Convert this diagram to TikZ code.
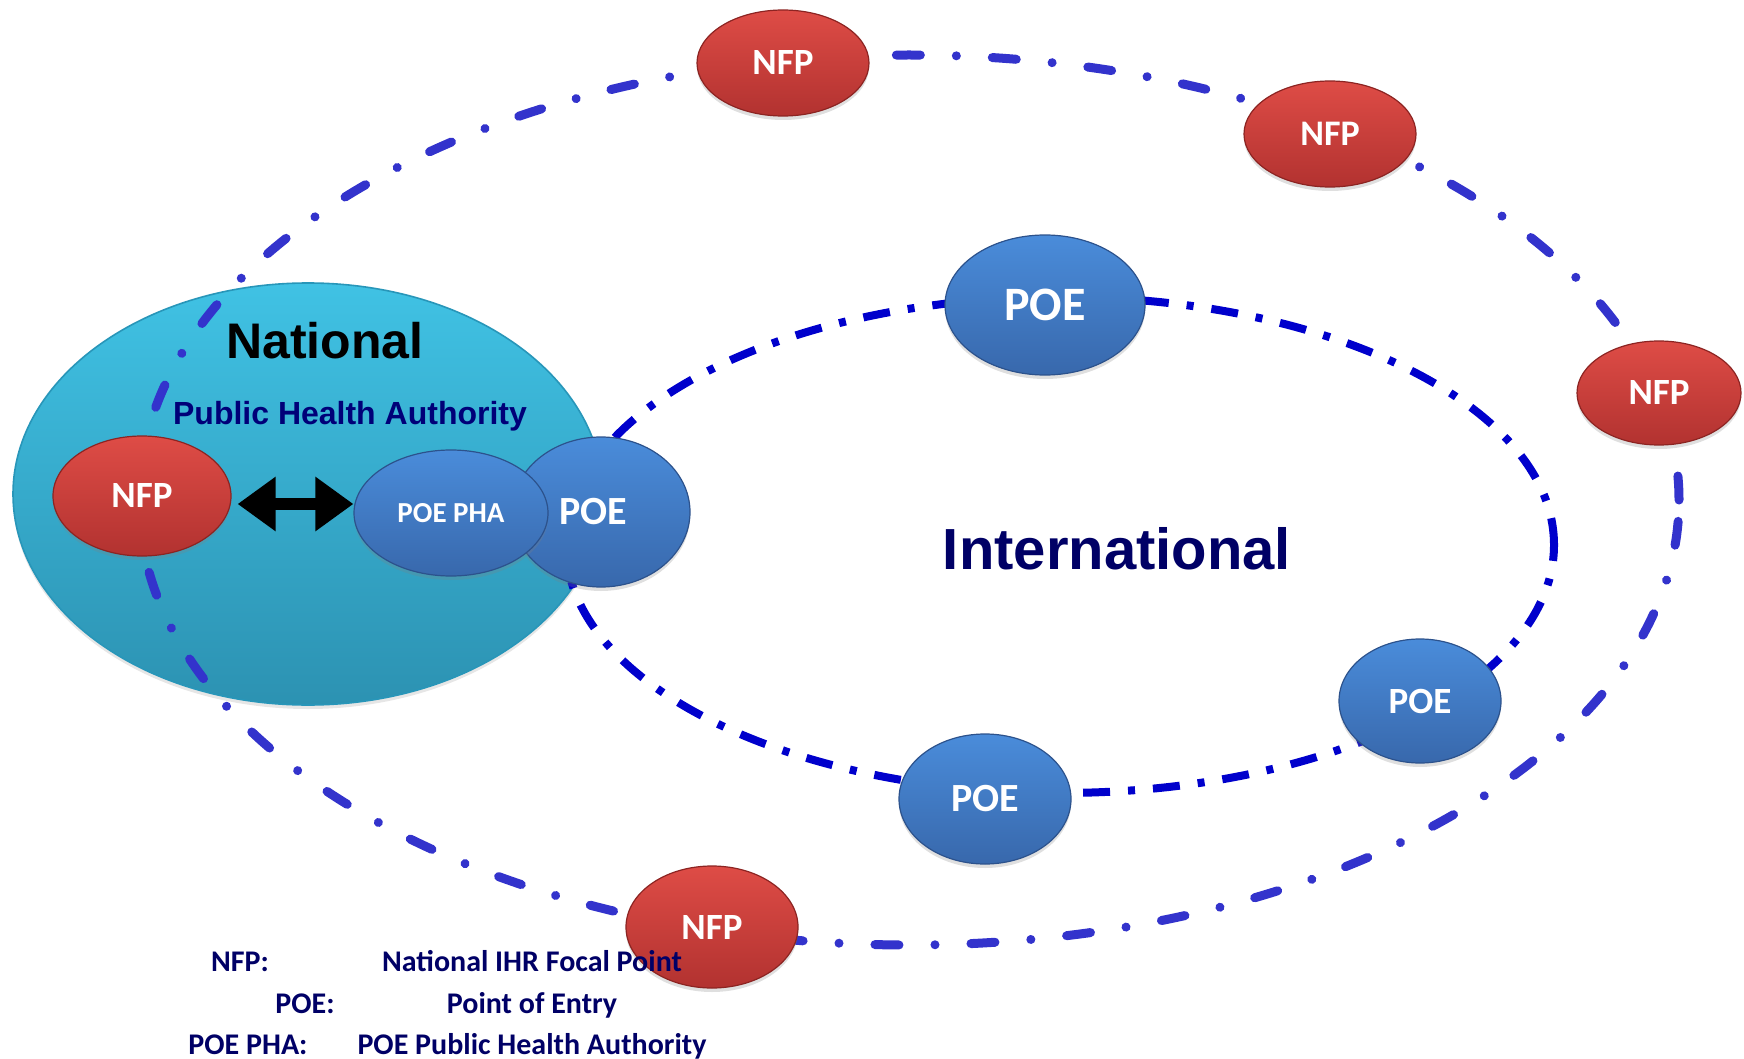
\documentclass[tikz,border=0pt]{standalone}
\usepackage{fontspec}
\newfontfamily\calib{Carlito}
\newfontfamily\arialf{Liberation Sans}
\usetikzlibrary{shapes.geometric,shadows,arrows.meta}

\definecolor{ringout}{RGB}{51,51,204}
\definecolor{ringin}{RGB}{0,0,204}
\definecolor{navy}{RGB}{0,0,102}
\definecolor{phanavy}{RGB}{0,0,120}
\definecolor{nfptop}{RGB}{222,76,70}
\definecolor{nfpbot}{RGB}{178,50,48}
\definecolor{nfpedge}{RGB}{140,36,34}
\definecolor{poetop}{RGB}{74,140,218}
\definecolor{poebot}{RGB}{56,104,172}
\definecolor{poeedge}{RGB}{44,82,140}
\definecolor{natop}{RGB}{64,194,228}
\definecolor{natbot}{RGB}{44,146,178}
\definecolor{natedge}{RGB}{40,150,185}

\tikzset{
  sz/.style 2 args={minimum width=#1pt, minimum height=#2pt},
  bubble/.style={ellipse, inner sep=0pt, line width=0.6pt, text=white,
    drop shadow={opacity=0.25, shadow xshift=0pt, shadow yshift=-2pt}},
  nfpbub/.style={bubble, top color=nfptop, bottom color=nfpbot, draw=nfpedge,
    font=\calib\bfseries\fontsize{18.5}{20}\selectfont},
  poebub/.style={bubble, top color=poetop, bottom color=poebot, draw=poeedge,
    font=\calib\bfseries\fontsize{20}{22}\selectfont},
  ringo/.style={ellipse, inner sep=0pt, draw=ringout, line width=4.5pt,
    line cap=round, dash pattern=on 12pt off 18pt on 0.01pt off 18pt},
  ringi/.style={ellipse, inner sep=0pt, draw=ringin, line width=4pt,
    dash pattern=on 13.5pt off 9pt on 3.5pt off 9pt},
  dblarrow/.style={line width=6pt, black,
    {Triangle[length=19pt,width=26pt]}-{Triangle[length=19pt,width=26pt]}},
  legtxt/.style={anchor=base, inner sep=0pt, text=navy,
    font=\calib\bfseries\fontsize{15}{17}\selectfont}
}

\begin{document}
\begin{tikzpicture}[x=0.5pt,y=-0.5pt]
\useasboundingbox (0,0) rectangle (1744,1059);

% national domain
\node[ellipse, inner sep=0pt, sz={295}{211}, top color=natop, bottom color=natbot,
  draw=natedge, line width=0.8pt,
  drop shadow={opacity=0.2, shadow xshift=0pt, shadow yshift=-2pt}]
  (national) at (308,494) {};
\node[anchor=base, inner sep=0pt, font=\arialf\bfseries\fontsize{25}{28}\selectfont]
  (natlabel) at (325,358) {National};
\node[anchor=base, inner sep=0pt, text=phanavy, font=\arialf\bfseries\fontsize{16}{18}\selectfont]
  (phalabel) at (350,424) {Public Health Authority};

% dash-dotted rings
\node[ringo, sz={770}{445}] (outerring) at (909,500) {};
\node[ringi, sz={494}{248}] (innerring) at (1060,545) {};

% points of entry
\node[poebub, sz={89}{75}] (poenat) at (601,512) {\hspace*{-8pt}POE};
\node[poebub, sz={97}{63}, font=\calib\bfseries\fontsize{14.5}{16}\selectfont]
  (pha) at (451,513) {POE PHA};
\node[poebub, sz={100}{70}, font=\calib\bfseries\fontsize{24}{26}\selectfont]
  (poetop) at (1045,305) {POE};
\node[poebub, sz={81}{62}, font=\calib\bfseries\fontsize{18.5}{20}\selectfont]
  (poeright) at (1420,701) {POE};
\node[poebub, sz={86}{65}] (poebottom) at (985,799) {POE};

% national focal points
\node[nfpbub, sz={89}{60}] (nfpnat) at (142,496) {NFP};
\node[nfpbub, sz={86}{53}] (nfpa) at (783,63) {NFP};
\node[nfpbub, sz={86}{53}, font=\calib\bfseries\fontsize{18}{20}\selectfont] (nfpb) at (1330,134) {NFP};
\node[nfpbub, sz={82}{52}] (nfpc) at (1659,393) {NFP};
\node[nfpbub, sz={86}{61}] (nfpd) at (712,927) {NFP};

% link between the focal point and the POE authority
\draw[dblarrow, shorten <=3pt] (nfpnat.east |- 0,504) -- (pha.west |- 0,504);

\node[anchor=base, inner sep=0pt, text=navy, font=\arialf\bfseries\fontsize{29}{32}\selectfont]
  (intlabel) at (1117,569) {International};

% legend
\node[legtxt] (knfp) at (240,971) {NFP:};
\node[legtxt] (vnfp) at (532,971) {National IHR Focal Point};
\node[legtxt] (kpoe) at (305,1013) {POE:};
\node[legtxt] (vpoe) at (532,1013) {Point of Entry};
\node[legtxt] (kpha) at (248,1054) {POE PHA:};
\node[legtxt] (vpha) at (532,1054) {POE Public Health Authority};
\end{tikzpicture}
\end{document}
